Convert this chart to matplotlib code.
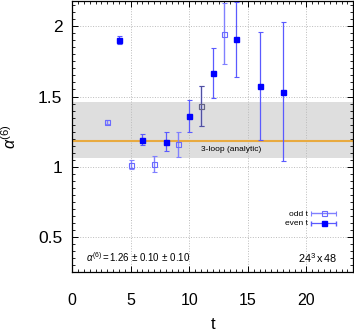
import matplotlib
matplotlib.use("Agg")
import matplotlib.pyplot as plt
import numpy as np
from matplotlib.legend_handler import HandlerErrorbar
from matplotlib.ticker import MultipleLocator, FormatStrFormatter

plt.rcParams['font.family'] = ['Liberation Sans', 'DejaVu Sans']
plt.rcParams['mathtext.fontset'] = 'custom'
plt.rcParams['mathtext.it'] = 'Liberation Sans:italic'
plt.rcParams['mathtext.rm'] = 'Liberation Sans'

# odd t points
t_odd = [3, 5, 7, 9, 11, 13]
a_odd = [1.316, 1.015, 1.02, 1.16, 1.433, 1.948]
e_odd = [0.015, 0.033, 0.055, 0.088, 0.142, 0.216]

# even t points
t_even = [4, 6, 8, 10, 12, 14, 16, 18]
a_even = [1.903, 1.193, 1.179, 1.362, 1.668, 1.907, 1.575, 1.535]
e_even = [0.026, 0.038, 0.07, 0.114, 0.178, 0.27, 0.385, 0.495]

# fit result and perturbative value
fit_val, fit_stat, fit_sys = 1.26, 0.10, 0.10
analytic = 1.18

fig = plt.figure(figsize=(3.54, 3.32), dpi=100)
ax = fig.add_axes([0.204, 0.181, 0.794, 0.817])

ax.axhspan(fit_val - fit_stat - fit_sys, fit_val + fit_stat + fit_sys,
           color='#dedede', lw=0, zorder=0)
ax.axhline(analytic, color='#e8aa40', lw=1.5, zorder=1)
ax.text(11, 1.12, '3-loop (analytic)', fontsize=6, va='center', ha='left')

ax.errorbar(t_odd, a_odd, yerr=e_odd, fmt='s', ms=3.6, mfc='none',
            mec='#6a6aff', mew=0.8, ecolor='#8080ff', elinewidth=1.0,
            capsize=1.8, capthick=0.8, zorder=3)
# t=11 drawn darker as in the original
ax.errorbar(t_odd[4], a_odd[4], yerr=e_odd[4], fmt='s', ms=3.6, mfc='none',
            mec='#666680', mew=0.8, ecolor='#5050a0', elinewidth=0.8,
            capsize=1.8, capthick=0.8, zorder=3)
ax.errorbar(t_even, a_even, yerr=e_even, fmt='s', ms=3.6, mfc='#0000ff',
            mec='#0000ff', ecolor='#5a5aff', elinewidth=0.9,
            capsize=1.8, capthick=0.8, zorder=4)

# legend proxies with horizontal bars
p_odd = ax.errorbar([np.nan], [np.nan], xerr=[0], fmt='s', ms=3.6, mfc='none',
                    mec='#6a6aff', mew=0.8, ecolor='#8080ff', elinewidth=1.0,
                    capsize=1.8, label='odd t')
p_even = ax.errorbar([np.nan], [np.nan], xerr=[0], fmt='s', ms=3.6, mfc='#0000ff',
                     mec='#0000ff', ecolor='#5a5aff', elinewidth=0.9,
                     capsize=1.8, label='even t')
ax.legend(handles=[p_odd, p_even], loc='center right',
          bbox_to_anchor=(0.955, 0.195), frameon=False, fontsize=6,
          markerfirst=False, handlelength=3.0, handletextpad=0.4,
          labelspacing=0.15, borderpad=0,
          handler_map={type(p_odd): HandlerErrorbar(xerr_size=1.5)})

ax.text(1.2, 0.355, r'$\alpha^{(6)}$$\,$=$\,$%.2f$\,\pm\,$%.2f$\,\pm\,$%.2f'
        % (fit_val, fit_stat, fit_sys), fontsize=7, va='center', ha='left')
ax.text(22.6, 0.345, r'24$^3\,$x$\,$48', fontsize=7.8, va='center', ha='right')

ax.set_xlim(0, 24)
ax.set_ylim(0.25, 2.183)
ax.xaxis.set_major_locator(MultipleLocator(5))
ax.xaxis.set_minor_locator(MultipleLocator(0.5))
ax.yaxis.set_major_locator(MultipleLocator(0.5))
ax.yaxis.set_minor_locator(MultipleLocator(0.05))
ax.yaxis.set_major_formatter(FormatStrFormatter('%g'))
ax.tick_params(which='both', direction='in', top=True, right=True)
ax.tick_params(which='major', length=4, width=0.7)
ax.tick_params(which='minor', length=2, width=0.6)
ax.tick_params(axis='x', which='major', labelsize=11.5, pad=15)
ax.tick_params(axis='y', which='major', labelsize=12.5, pad=7)
ax.grid(True, which='major', ls=':', color='#bbbbbb', lw=0.7)
ax.set_axisbelow(True)
for s in ax.spines.values():
    s.set_linewidth(0.9)

ax.set_xlabel('t', fontsize=12, labelpad=7)
ax.set_ylabel(r'$\alpha^{(6)}$', fontsize=11.5, labelpad=14)

fig.savefig('out.png', dpi=100)
